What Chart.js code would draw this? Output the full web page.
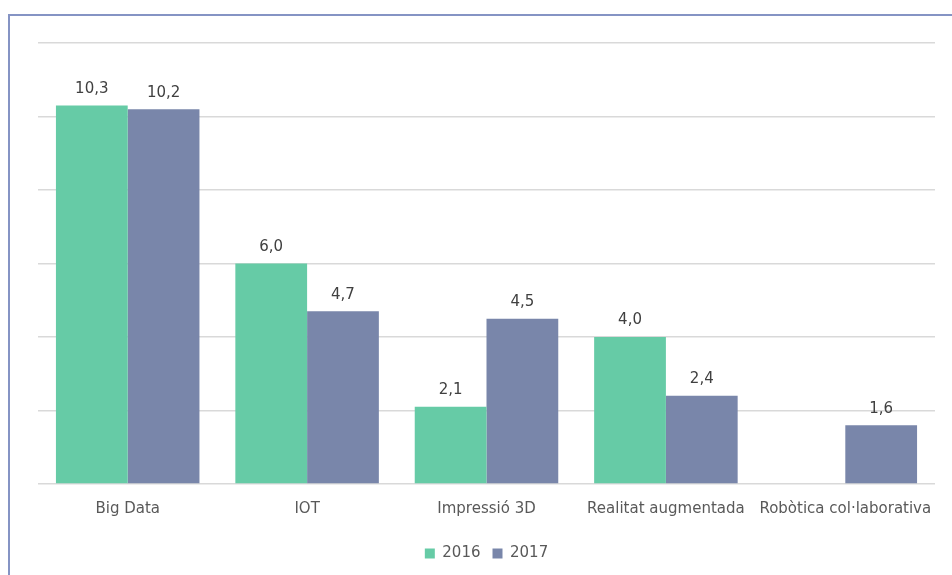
<!DOCTYPE html>
<html>
<head>
<meta charset="utf-8">
<script src="https://cdn.jsdelivr.net/npm/chart.js@4"></script>
<style>
  html, body { margin: 0; padding: 0; background: #fff; overflow: hidden; }
  #frame { position: absolute; left: 8px; top: 14px; width: 980px; height: 620px; border: 2px solid #8594c4; }
  #wrap { position: absolute; left: 0; top: 0; width: 952px; height: 575px; }
</style>
</head>
<body>
<div id="frame"></div>
<div id="wrap"><canvas id="myBarChart"></canvas></div>
<script>
// 카테고리와 값
const categories = ['Big Data', 'IOT', 'Impressió 3D', 'Realitat augmentada', 'Robòtica col·laborativa'];
const values2016 = [10.3, 6.0, 2.1, 4.0, null];
const values2017 = [10.2, 4.7, 4.5, 2.4, 1.6];
const seriesNames = ['2016', '2017'];

// 막대 위에 값 표시 (소수점은 쉼표)
const valueLabels = {
  id: 'valueLabels',
  afterDatasetsDraw(chart) {
    const ctx = chart.ctx;
    ctx.save();
    ctx.font = '15px "DejaVu Sans"';
    ctx.fillStyle = '#404040';
    ctx.textAlign = 'center';
    ctx.textBaseline = 'bottom';
    chart.data.datasets.forEach(function(ds, i) {
      chart.getDatasetMeta(i).data.forEach(function(bar, j) {
        const v = ds.data[j];
        if (v === null || v === undefined) return;
        ctx.fillText(v.toFixed(1).replace('.', ','), bar.x, bar.y - 9);
      });
    });
    ctx.restore();
  }
};

var ctx = document.getElementById('myBarChart').getContext('2d');
var myBarChart = new Chart(ctx, {
  type: 'bar',
  data: {
    labels: categories,
    datasets: [{
      label: seriesNames[0],
      data: values2016,
      backgroundColor: '#66cba6'
    }, {
      label: seriesNames[1],
      data: values2017,
      backgroundColor: '#7986aa'
    }]
  },
  options: {
    responsive: true,
    maintainAspectRatio: false,
    animation: false,
    datasets: { bar: { categoryPercentage: 0.8, barPercentage: 1.0 } },
    layout: { padding: { left: 38, right: 17, top: 43, bottom: 4 } },
    scales: {
      x: {
        grid: { display: false },
        border: { display: false },
        ticks: { color: '#595959', font: { family: 'DejaVu Sans', size: 15 }, padding: 8, maxRotation: 0, autoSkip: false },
        afterFit: function(scale) { scale.height += 8; }
      },
      y: {
        min: 0,
        max: 12,
        ticks: { stepSize: 2, display: false },
        border: { display: false },
        grid: { color: '#d9d9d9', lineWidth: 1.5, drawTicks: false }
      }
    },
    plugins: {
      legend: {
        position: 'bottom',
        labels: { boxWidth: 10, boxHeight: 10, color: '#595959', font: { family: 'DejaVu Sans', size: 15 }, padding: 12 }
      },
      tooltip: { enabled: false }
    }
  },
  plugins: [valueLabels]
});
</script>
</body>
</html>
